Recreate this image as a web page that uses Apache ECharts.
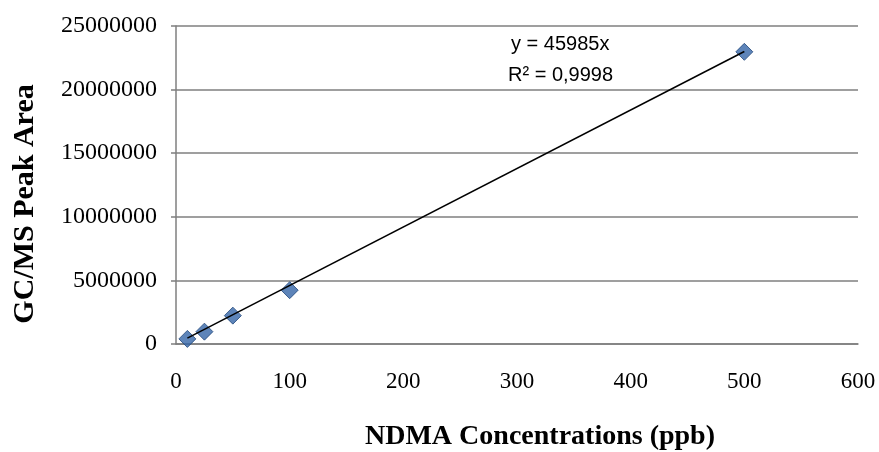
<!DOCTYPE html>
<html>
<head>
<meta charset="utf-8">
<script src="https://cdn.jsdelivr.net/npm/echarts@6/dist/echarts.min.js"></script>
<style>
html,body{margin:0;padding:0;background:#fff;}
#chart{width:879px;height:452px;}
</style>
</head>
<body>
<div id="chart"></div>
<script>
// Data
var concentrations = [10, 25, 50, 100, 500];           // NDMA ppb
var peakAreas = [400000, 970000, 2230000, 4230000, 22970000]; // GC/MS peak area
var slope = 45985;   // trendline y = 45985x
var rSquared = '0,9998';
var xTicks = {min: 0, max: 600, interval: 100};
var yTicks = {min: 0, max: 25000000, interval: 5000000};
var xTitle = 'NDMA Concentrations (ppb)';
var yTitle = 'GC/MS Peak Area';

var points = concentrations.map(function (c, i) { return [c, peakAreas[i]]; });
var trendX = [concentrations[0], concentrations[concentrations.length - 1]];
var trend = trendX.map(function (x) { return [x, slope * x]; });

var chart = echarts.init(document.getElementById('chart'), null, {renderer: 'canvas'});
var serif = '"Liberation Serif", "Times New Roman", serif';
chart.setOption({
  animation: false,
  backgroundColor: '#ffffff',
  grid: {left: 176, right: 21, top: 26, bottom: 108, containLabel: false},
  xAxis: {
    type: 'value', min: xTicks.min, max: xTicks.max, interval: xTicks.interval,
    axisLine: {show: true, lineStyle: {color: '#7f7f7f', width: 1.5}},
    axisTick: {show: false},
    splitLine: {show: false},
    axisLabel: {fontFamily: serif, fontSize: 23, color: '#000', margin: 26,
      formatter: function (v) { return String(v); }}
  },
  yAxis: {
    type: 'value', min: yTicks.min, max: yTicks.max, interval: yTicks.interval,
    axisLine: {show: true, lineStyle: {color: '#7f7f7f', width: 1.5}},
    axisTick: {show: true, length: 5, lineStyle: {color: '#7f7f7f', width: 1.5}},
    splitLine: {show: true, lineStyle: {color: '#7f7f7f', width: 1.5}},
    axisLabel: {fontFamily: serif, fontSize: 24, color: '#000', margin: 19,
      formatter: function (v) { return String(v); }}
  },
  graphic: [
    {type: 'text', position: [540, 437], style: {text: xTitle, font: 'bold 28px ' + serif, fill: '#000', textAlign: 'center', textVerticalAlign: 'middle', x: 0, y: 0}, z: 10},
    {type: 'text', position: [25, 204], rotation: Math.PI / 2, style: {text: yTitle, font: 'bold 30px ' + serif, fill: '#000', textAlign: 'center', textVerticalAlign: 'middle', x: 0, y: 0}, z: 10},
    {type: 'text', position: [511, 44], style: {text: 'y = ' + slope + 'x', font: '20px "Liberation Sans", Arial, sans-serif', fill: '#000', textAlign: 'left', textVerticalAlign: 'middle', x: 0, y: 0}, z: 10},
    {type: 'text', position: [508, 75], style: {text: 'R² = ' + rSquared, font: '20px "Liberation Sans", Arial, sans-serif', fill: '#000', textAlign: 'left', textVerticalAlign: 'middle', x: 0, y: 0}, z: 10}
  ],
  series: [
    {
      type: 'line', data: trend, showSymbol: false, symbol: 'none',
      lineStyle: {color: '#000', width: 1.5}, z: 3, silent: true
    },
    {
      type: 'scatter', data: points, symbol: 'diamond', symbolSize: 17,
      itemStyle: {color: '#3465A8', borderColor: '#22477A', borderWidth: 1}, z: 2
    }
  ]
});
</script>
</body>
</html>
